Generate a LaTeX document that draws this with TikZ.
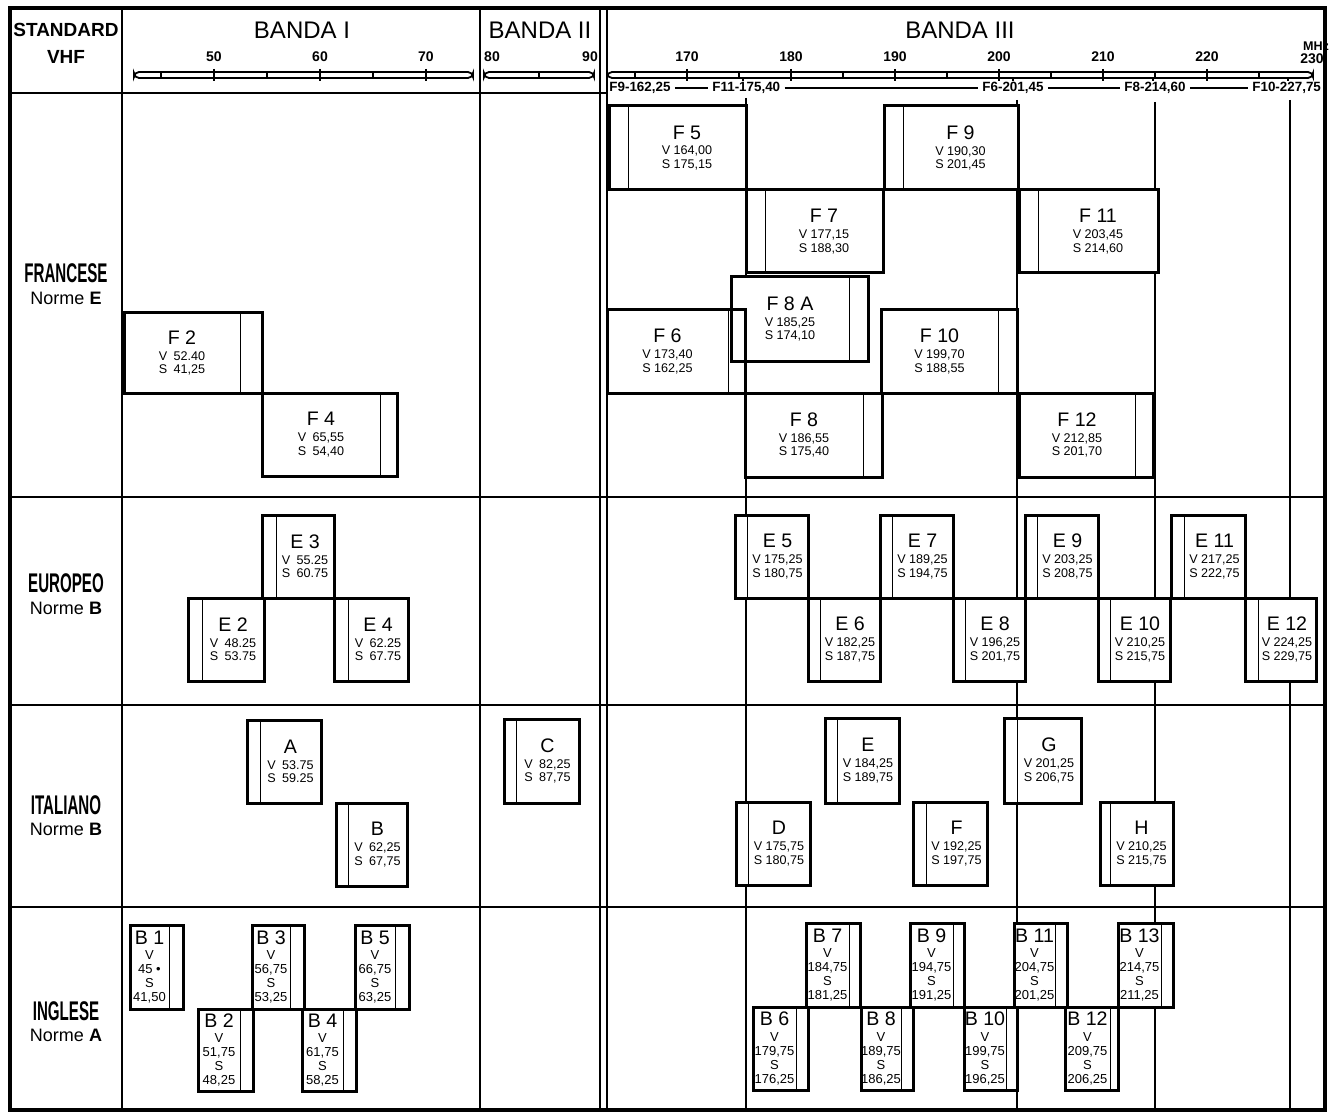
\documentclass[tikz,border=0pt]{standalone}
\usepackage{fontspec}
\setmainfont{Liberation Sans}
\usepackage{graphicx}
\usepackage{tikz}
\usetikzlibrary{positioning}

\newcommand{\chanfont}{\fontsize{9.8}{10}\selectfont}
% box: name, x1, y1, x2, y2, carrier line, label, V, S
\newcommand{\chan}[9]{%
  \pgfmathsetmacro{\chx}{abs(#6-#2)<abs(#6-#4) ? (#6+#4)/2 : (#2+#6)/2}%
  \pgfmathsetmacro{\chy}{(#3+#5)/2}%
  \draw[chanbox] (#2,#3) rectangle (#4,#5);
  \draw[stripe] (#6,#3) -- (#6,#5);
  \node[chantext] (#1) at (\chx,\chy) {{\chanfont #7}\\[1pt] #8\\ #9};
}
\newcommand{\bchan}[9]{%
  \pgfmathsetmacro{\chx}{(#2+#6)/2}%
  \pgfmathsetmacro{\chy}{(#3+#5)/2}%
  \draw[chanbox] (#2,#3) rectangle (#4,#5);
  \draw[stripe] (#6,#3) -- (#6,#5);
  \node[chantext,font=\fontsize{6.5}{7}\selectfont] (#1) at (\chx,\chy) {{\chanfont #7}\\[0.8pt] V\\ #8\\ S\\ #9};
}

\begin{document}
\begin{tikzpicture}[x=0.5pt,y=-0.5pt,
    rule/.style={line width=1.1pt},
    thinrule/.style={line width=0.9pt},
    frame/.style={line width=1.8pt},
    bar/.style={line width=0.9pt, rounded corners=2.5pt},
    tick/.style={line width=0.8pt},
    chanbox/.style={draw, fill=white, line width=1.5pt},
    chanedge/.style={draw, line width=1.5pt},
    stripe/.style={line width=0.5pt},
    chantext/.style={align=center, inner sep=0pt, font=\fontsize{6.3}{6.8}\selectfont},
    scalenum/.style={font=\bfseries\fontsize{7}{8}\selectfont, inner sep=0pt},
    freqtext/.style={font=\bfseries\fontsize{6.7}{8}\selectfont, inner sep=2pt},
    bandname/.style={font=\fontsize{12}{14}\selectfont, inner sep=0pt},
    stdname/.style={font=\bfseries\fontsize{9.5}{11}\selectfont, inner sep=0pt},
    rowname/.style={font=\bfseries\fontsize{13.5}{15}\selectfont, inner sep=0pt},
    normname/.style={font=\fontsize{9}{11}\selectfont, inner sep=0pt}]
    \useasboundingbox (0,0) rectangle (1330,1113);
    \fill[white] (0,0) rectangle (1330,1113);

    % frame and columns
    \draw[frame] (10,8) rectangle (1325,1110);
    \foreach \x in {122,480,600,607} {
        \draw[rule] (\x,8) -- (\x,1110);
    }
    \draw[rule] (10,93) -- (607,93);
    \foreach \y in {497,705,907} {
        \draw[rule] (10,\y) -- (1325,\y);
    }
    \foreach \x/\y in {746/98,1017/100,1155/102,1290/100} {
        \draw[thinrule] (\x,\y) -- (\x,1110);
    }

    % headings
    \node[stdname] (std) at (66,30) {STANDARD};
    \node[stdname] (vhf) at (66,57) {VHF};
    \node[bandname] (band1) at (302,30) {BANDA I};
    \node[bandname] (band2) at (540,30) {BANDA II};
    \node[bandname] (band3) at (960,30) {BANDA III};

    % scales
    \draw[bar] (134,72) rectangle (473,78);
    \draw[bar] (484,72) rectangle (594,78);
    \draw[bar] (607,72) rectangle (1313,78);
    \foreach \f in {50,60,70} {
        \pgfmathsetmacro{\x}{214+(\f-50)*10.6}
        \draw[tick] (\x,69) -- (\x,81);
        \node[scalenum] (b1n\f) at (\x,57) {\f};
    }
    \foreach \f in {45,55,65} {
        \pgfmathsetmacro{\x}{214+(\f-50)*10.6}
        \draw[tick] (\x,72) -- (\x,78);
    }
    \draw[tick] (539,72) -- (539,78);
    \node[scalenum] (b2n80) at (492,57) {80};
    \node[scalenum] (b2n90) at (590,57) {90};
    \foreach \f in {170,180,...,220} {
        \pgfmathsetmacro{\x}{687+(\f-170)*10.4}
        \draw[tick] (\x,69) -- (\x,81);
        \node[scalenum] (b3n\f) at (\x,57) {\f};
    }
    \foreach \f in {165,175,...,225} {
        \pgfmathsetmacro{\x}{687+(\f-170)*10.4}
        \draw[tick] (\x,72) -- (\x,78);
    }
    \node[scalenum,font=\bfseries\fontsize{6.3}{7}\selectfont] (mhz) at (1316,46) {MHz};
    \node[scalenum] (b3n230) at (1312,59) {230};
    \foreach \x in {743,1013,1153,1288} {
        \draw[tick] (\x,78) -- (\x,81.5);
    }

    % channel edges of band III
    \node[freqtext,anchor=west] (fq1) at (605,88) {F9-162,25};
    \node[freqtext,anchor=west] (fq2) at (708,88) {F11-175,40};
    \node[freqtext,anchor=west] (fq3) at (978,88) {F6-201,45};
    \node[freqtext,anchor=west] (fq4) at (1120,88) {F8-214,60};
    \node[freqtext,anchor=west] (fq5) at (1248,88) {F10-227,75};
    \draw[line width=1pt] (fq1) -- (fq2);
    \draw[line width=1pt] (fq2) -- (fq3);
    \draw[line width=1pt] (fq3) -- (fq4);
    \draw[line width=1pt] (fq4) -- (fq5);

    % standards
    \node[rowname] (fra) at (66,273) {\scalebox{0.56}[1]{FRANCESE}};
    \node[normname] (fran) at (66,298) {Norme \textbf{E}};
    \node[rowname] (eur) at (66,583) {\scalebox{0.56}[1]{EUROPEO}};
    \node[normname] (eurn) at (66,608) {Norme \textbf{B}};
    \node[rowname] (ita) at (66,805) {\scalebox{0.56}[1]{ITALIANO}};
    \node[normname] (itan) at (66,829) {Norme \textbf{B}};
    \node[rowname] (ing) at (66,1011) {\scalebox{0.56}[1]{INGLESE}};
    \node[normname] (ingn) at (66,1035) {Norme \textbf{A}};

    % francese
    \chan{F2}{124}{313}{262}{393}{240}{F 2}{V\enspace 52.40}{S\enspace 41,25}
    \chan{F4}{262}{393}{397}{476}{380}{F 4}{V\enspace 65,55}{S\enspace 54,40}
    \chan{F5}{609}{106}{746}{190}{628}{F 5}{V 164,00}{S 175,15}
    \chan{F9}{884}{106}{1018}{190}{903}{F 9}{V 190,30}{S 201,45}
    \chan{F7}{746}{190}{883}{273}{765}{F 7}{V 177,15}{S 188,30}
    \chan{F11}{1019}{190}{1158}{273}{1038}{F 11}{V 203,45}{S 214,60}
    \chan{F8A}{731}{277}{868}{361}{849}{F 8 A}{V 185,25}{S 174,10}
    \chan{F6}{607}{310}{745}{393}{728}{F 6}{V 173,40}{S 162,25}
    \chan{F10}{881}{310}{1017}{393}{998}{F 10}{V 199,70}{S 188,55}
    \chan{F8}{745}{393}{882}{477}{863}{F 8}{V 186,55}{S 175,40}
    \chan{F12}{1019}{393}{1153}{477}{1135}{F 12}{V 212,85}{S 201,70}
    \draw[chanedge] (731,277) rectangle (868,361);

    % europeo
    \chan{E3}{262}{515}{334}{598}{276}{E 3}{V\enspace 55.25}{S\enspace 60.75}
    \chan{E2}{188}{598}{264}{681}{202}{E 2}{V\enspace 48.25}{S\enspace 53.75}
    \chan{E4}{334}{598}{408}{681}{348}{E 4}{V\enspace 62.25}{S\enspace 67.75}
    \chan{E5}{735}{515}{808}{598}{747}{E 5}{V 175,25}{S 180,75}
    \chan{E6}{808}{598}{880}{681}{820}{E 6}{V 182,25}{S 187,75}
    \chan{E7}{880}{515}{953}{598}{892}{E 7}{V 189,25}{S 194,75}
    \chan{E8}{953}{598}{1025}{681}{965}{E 8}{V 196,25}{S 201,75}
    \chan{E9}{1025}{515}{1098}{598}{1037}{E 9}{V 203,25}{S 208,75}
    \chan{E10}{1098}{598}{1170}{681}{1110}{E 10}{V 210,25}{S 215,75}
    \chan{E11}{1171}{515}{1245}{598}{1184}{E 11}{V 217,25}{S 222,75}
    \chan{E12}{1245}{598}{1316}{681}{1258}{E 12}{V 224,25}{S 229,75}

    % italiano
    \chan{itA}{247}{720}{321}{803}{260}{A}{V\enspace 53.75}{S\enspace 59.25}
    \chan{itB}{336}{803}{407}{886}{348}{B}{V\enspace 62,25}{S\enspace 67,75}
    \chan{itC}{504}{719}{579}{803}{516}{C}{V\enspace 82,25}{S\enspace 87,75}
    \chan{itD}{736}{802}{810}{885}{748}{D}{V 175,75}{S 180,75}
    \chan{itE}{825}{718}{899}{803}{837}{E}{V 184,25}{S 189,75}
    \chan{itF}{913}{802}{987}{885}{926}{F}{V 192,25}{S 197,75}
    \chan{itG}{1004}{718}{1081}{803}{1017}{G}{V 201,25}{S 206,75}
    \chan{itH}{1100}{802}{1173}{885}{1110}{H}{V 210,25}{S 215,75}

    % inglese
    \bchan{B1}{130}{925}{183}{1009}{169}{B 1}{45 •}{41,50}
    \bchan{B2}{198}{1009}{253}{1091}{240}{B 2}{51,75}{48,25}
    \bchan{B3}{252}{925}{304}{1009}{290}{B 3}{56,75}{53,25}
    \bchan{B4}{302}{1009}{356}{1091}{343}{B 4}{61,75}{58,25}
    \bchan{B5}{355}{925}{409}{1009}{395}{B 5}{66,75}{63,25}
    \bchan{B6}{753}{1007}{808}{1090}{796}{B 6}{179,75}{176,25}
    \bchan{B7}{806}{923}{860}{1007}{849}{B 7}{184,75}{181,25}
    \bchan{B8}{861}{1007}{913}{1090}{901}{B 8}{189,75}{186,25}
    \bchan{B9}{910}{923}{964}{1007}{953}{B 9}{194,75}{191,25}
    \bchan{B10}{964}{1007}{1017}{1090}{1006}{B 10}{199,75}{196,25}
    \bchan{B11}{1014}{923}{1067}{1007}{1055}{B 11}{204,75}{201,25}
    \bchan{B12}{1065}{1007}{1118}{1090}{1110}{B 12}{209,75}{206,25}
    \bchan{B13}{1118}{923}{1173}{1007}{1161}{B 13}{214,75}{211,25}
\end{tikzpicture}
\end{document}
